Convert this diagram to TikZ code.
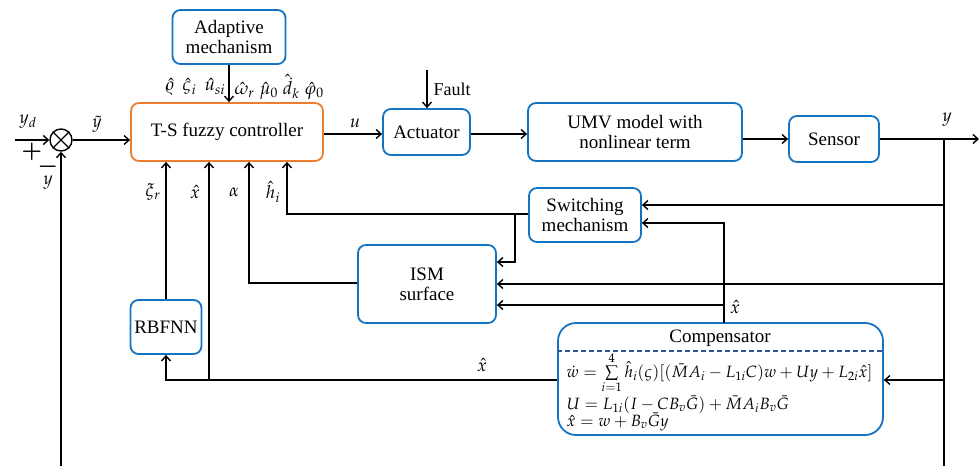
\documentclass[tikz,border=0pt]{standalone}
\usepackage{mathpazo}
\usepackage{fontspec}
\setmainfont{LiberationSerif}[Extension=.ttf, UprightFont=*-Regular, BoldFont=*-Bold, ItalicFont=*-Italic, BoldItalicFont=*-BoldItalic]
\newfontfamily\tnr{LiberationSerif}[Extension=.ttf, UprightFont=*-Regular, BoldFont=*-Bold]
\usetikzlibrary{arrows.meta}
\definecolor{bblue}{RGB}{20,115,195}
\definecolor{orng}{RGB}{237,125,49}
\definecolor{dblue}{RGB}{47,85,151}
\begin{document}
\begin{tikzpicture}[x=1pt,y=-1pt, line width=1.4pt,
  >={Straight Barb[length=5pt,width=9pt]},
  blk/.style={draw=bblue, line width=1.8pt, rounded corners=8pt, align=center, inner sep=0pt, font=\tnr\fontsize{19}{22}\selectfont},
  lbl/.style={font=\fontsize{18}{20}\selectfont, inner sep=0pt},
  sgn/.style={font=\boldmath\fontsize{22}{24}\selectfont, inner sep=0pt},
  eq/.style={font=\fontsize{16.3}{18}\selectfont, inner sep=0pt, anchor=base west}]
\useasboundingbox (0,0) rectangle (980,466);
% blocks
\node[blk, minimum width=113pt, minimum height=54pt] (adapt) at (229,37) {Adaptive\\[-2pt]mechanism};
\node[blk, draw=orng, minimum width=192pt, minimum height=58pt] (ctrl) at (227,132) {T-S fuzzy controller};
\node[blk, minimum width=87pt, minimum height=46pt] (act) at (426.5,132) {Actuator};
\node[blk, minimum width=214pt, minimum height=58pt] (umv) at (635,132) {UMV model with\\[-2pt]nonlinear term};
\node[blk, minimum width=90pt, minimum height=46pt] (sensor) at (834,139) {Sensor};
\node[blk, minimum width=112pt, minimum height=54pt] (switch) at (585,215) {Switching\\[-2pt]mechanism};
\node[blk, minimum width=138pt, minimum height=78pt] (ism) at (427,284) {ISM\\[-2pt]surface};
\node[blk, minimum width=71pt, minimum height=54pt] (rbf) at (166,327) {RBFNN};
\node[blk, rounded corners=18pt, minimum width=325pt, minimum height=112pt] (comp) at (720.5,379) {};
\node[lbl, font=\tnr\fontsize{19}{22}\selectfont] (ctitle) at (720,338) {Compensator};
\draw[dblue, line width=1.2pt, dash pattern=on 5pt off 3pt] (comp.west |- 0,351) -- (comp.east |- 0,351);
\node[eq] (e1) at (566,377) {$\dot{w}=\sum\limits_{i=1}^{4}\hat{h}_i(\varsigma)[(\bar{M}A_i-L_{1i}C)w+Uy+L_{2i}\hat{x}]$};
\node[eq] (e2) at (566,409.5) {$U=L_{1i}(I-CB_v\bar{G})+\bar{M}A_iB_v\bar{G}$};
\node[eq] (e3) at (566,426.5) {$\hat{x}=w+B_v\bar{G}y$};
% summing junction
\node[draw, circle, minimum size=22pt, inner sep=0pt] (sum) at (61,140) {};
\draw (sum.north west) -- (sum.south east);
\draw (sum.north east) -- (sum.south west);
% coordinates
\coordinate (yd) at (15,140);
\coordinate (fb) at (61,466);
\coordinate (flt) at (427,70);
\coordinate (out) at (979,139);
\coordinate (ybr) at (944,139);
\coordinate (ybot) at (944,466);
\coordinate (j1) at (944,205);
\coordinate (j2) at (944,284);
\coordinate (j3) at (944,380);
\coordinate (ct) at (724,323);
\coordinate (sb) at (515,214);
\coordinate (xb) at (209,380);
% connectors
\draw[->] (adapt.south) -- (adapt.south |- ctrl.north);
\draw[->] (flt) -- (flt |- act.north);
\draw[->] (yd) -- (sum.west);
\draw[->] (fb) -- (sum.south);
\draw[->] (sum.east) -- (sum.east -| ctrl.west);
\draw[->] (ctrl.east |- 0,134) -- (act.west |- 0,134);
\draw[->] (act.east |- 0,134) -- (umv.west |- 0,134);
\draw[->] (umv.east |- sensor.west) -- (sensor.west);
\draw[->] (sensor.east) -- (out);
\draw (ybr) -- (ybot);
\draw[->] (j1) -- (j1 -| switch.east);
\draw[->] (j2) -- (j2 -| ism.east);
\draw[->] (j3) -- (j3 -| comp.east);
\draw[->] (ct) |- (switch.east |- 0,223);
\draw[->] (ct |- 0,305) -- (ism.east |- 0,305);
\draw[->] (switch.west |- sb) -| (ctrl.south -| 287,0);
\draw[->] (sb) |- (ism.east |- 0,262);
\draw[->] (ism.west |- 0,283) -| (ctrl.south -| 249,0);
\draw[->] (comp.west |- xb) -| (rbf.south);
\draw[->] (xb) -- (xb |- ctrl.south);
\draw[->] (rbf.north) -- (rbf.north |- ctrl.south);
% labels
\node[lbl] (lyd) at (28,122) {$y_d$};
\node[sgn] (lp) at (32,152) {$+$};
\node[sgn] (lm) at (48,167) {$-$};
\node[lbl] (ly) at (48,183) {$y$};
\node[lbl] (lyt) at (97,124) {$\tilde{y}$};
\node[lbl] (lu) at (355,123) {$u$};
\node[lbl, font=\tnr\fontsize{18}{20}\selectfont] (lf) at (452,89) {Fault};
\node[lbl] (lyo) at (947,120) {$y$};
\node[lbl, anchor=east] (la1) at (226,87) {$\hat{\varrho}\;\,\hat{\varsigma}_i\;\,\hat{u}_{si}$};
\node[lbl, anchor=west] (la2) at (234,87) {$\hat{\omega}_r\;\hat{\mu}_0\;\hat{\dot{d}}_k\;\hat{\varphi}_0$};
\node[lbl] (lxi) at (153,192) {$\xi_r$};
\node[lbl] (lx1) at (195,192) {$\hat{x}$};
\node[lbl] (lal) at (234,192) {$\alpha$};
\node[lbl] (lh) at (273,192) {$\hat{h}_i$};
\node[lbl] (lx2) at (735,307) {$\hat{x}$};
\node[lbl] (lx3) at (482,365) {$\hat{x}$};
\end{tikzpicture}
\end{document}
